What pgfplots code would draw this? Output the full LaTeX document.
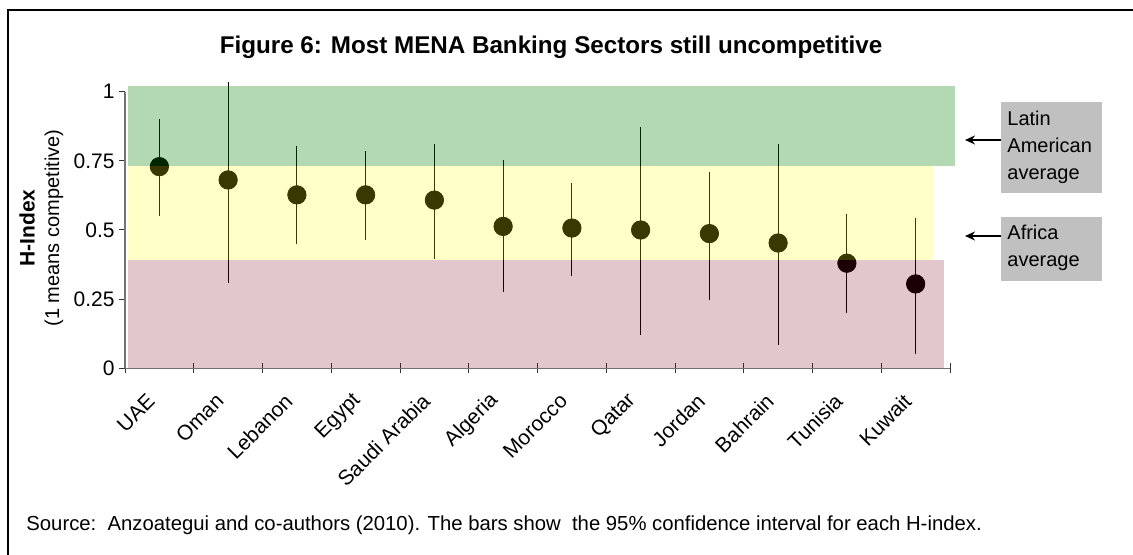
\documentclass[border=0pt]{standalone}
\usepackage{pgfplots}
\pgfplotsset{compat=1.18}
\usepackage{pgfplotstable}
\usepackage{fontspec}
\setmainfont{Liberation Sans}
\usetikzlibrary{arrows.meta}

\definecolor{bandgreen}{RGB}{0,128,0}
\definecolor{bandyellow}{RGB}{255,255,0}
\definecolor{bandred}{RGB}{123,5,27}
\definecolor{boxgray}{RGB}{192,192,192}

% x = category index, y = H-index, ep/em = upper/lower length of 95% CI
\pgfplotstableread{
x y ep em
0 0.729 0.171 0.177
1 0.681 0.355 0.372
2 0.627 0.178 0.176
3 0.627 0.159 0.163
4 0.608 0.204 0.212
5 0.513 0.239 0.238
6 0.507 0.163 0.172
7 0.500 0.372 0.380
8 0.487 0.224 0.239
9 0.453 0.359 0.368
10 0.380 0.177 0.179
11 0.305 0.238 0.252
}\hindex

\pgfplotsset{common/.style={
  at={(62.5pt,93.35pt)}, anchor=south west,
  scale only axis, width=412.5pt, height=138.3pt,
  xmin=-0.5, xmax=11.5, ymin=0, ymax=1, clip=false}}

\begin{document}
\begin{tikzpicture}[x=0.5pt,y=0.5pt]
\path[use as bounding box] (0,0) rectangle (1133,555);
\draw[line width=0.8pt] (8,0) -- (8,545) -- (1133,545);
\node[anchor=base, font=\fontsize{12.1}{14}\selectfont\bfseries, inner sep=0] at (551,501) {Figure 6: Most MENA Banking Sectors still uncompetitive};

\begin{axis}[
  common,
  axis x line=bottom, axis y line=left,
  axis line style={-, draw=black!55, line width=0.7pt},
  xtick={0,...,11},
  xticklabels={UAE,Oman,Lebanon,Egypt,Saudi Arabia,Algeria,Morocco,Qatar,Jordan,Bahrain,Tunisia,Kuwait},
  major x tick style={draw=none},
  minor xtick={-0.5,0.5,...,11.5},
  minor x tick style={draw=black!80, line width=0.5pt},
  minor tick length=5pt,
  xtick align=center,
  ytick={0,0.25,0.5,0.75,1},
  yticklabels={0,0.25,0.5,0.75,1},
  ytick align=outside,
  major tick length=3pt,
  ytick style={draw=black!80, line width=0.5pt},
  tick label style={font=\fontsize{10.5}{12}\selectfont},
  xticklabel style={xshift=-4pt, yshift=-13pt, rotate=45, anchor=east, inner sep=0pt},
  yticklabel style={inner sep=2pt},
]
\addplot[only marks, mark=*, mark size=4.6pt, mark options={fill=black, draw=black},
  error bars/.cd, y dir=both, y explicit, error mark=none,
  error bar style={line width=0.6pt, black}]
  table[x=x, y=y, y error plus=ep, y error minus=em] {\hindex};
\end{axis}

% translucent bands laid over the markers and bars
\begin{axis}[common, hide axis]
\fill[bandgreen, opacity=0.30] (axis cs:-0.46,0.732) rectangle (axis cs:11.57,1.02);
\fill[bandyellow, opacity=0.22] (axis cs:-0.46,0.391) rectangle (axis cs:11.25,0.732);
\fill[bandred, opacity=0.22] (axis cs:-0.46,0) rectangle (axis cs:11.41,0.391);
\end{axis}

\node[rotate=90, font=\fontsize{10.5}{12}\selectfont\bfseries] at (27,327) {H-Index};
\node[rotate=90, font=\fontsize{10}{12}\selectfont] at (54,327) {(1 means competitive)};

\draw[-{Stealth[length=5pt,width=4.5pt]}, line width=0.8pt] (1002,415) -- (965,415);
\draw[-{Stealth[length=5pt,width=4.5pt]}, line width=0.8pt] (1002,319) -- (965,319);
\fill[boxgray] (1001,362) rectangle (1102,453);
\fill[boxgray] (1001,274) rectangle (1102,338);
\node[anchor=north west, align=left, inner sep=0pt, font=\fontsize{10}{13.35}\selectfont] at (1007,444) {Latin\\American\\average};
\node[anchor=north west, align=left, inner sep=0pt, font=\fontsize{10}{13.35}\selectfont] at (1007,330) {Africa\\average};

\node[anchor=base west, inner sep=0pt, font=\fontsize{10.15}{12}\selectfont] at (26,24) {Source:\ \ Anzoategui and co-authors (2010). The bars show\ \ the 95\% confidence interval for each H-index.};
\end{tikzpicture}
\end{document}
